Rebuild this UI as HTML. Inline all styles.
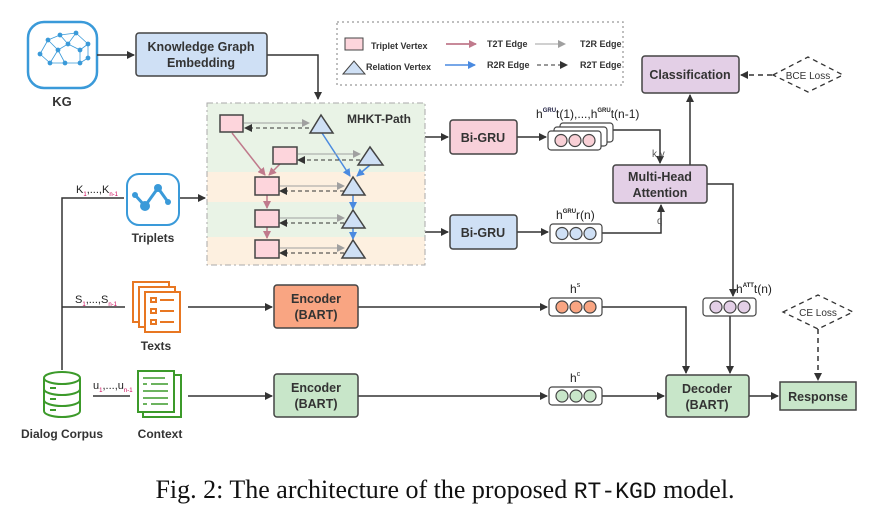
<!DOCTYPE html>
<html><head><meta charset="utf-8"><style>
body{margin:0;background:#fff;width:884px;height:510px;overflow:hidden}
svg text{font-family:"Liberation Sans",sans-serif}
</style></head><body>
<svg width="884" height="510" viewBox="0 0 884 510" xmlns="http://www.w3.org/2000/svg">
<defs>
<marker id="ak" markerWidth="8" markerHeight="8" refX="7" refY="4" orient="auto" markerUnits="userSpaceOnUse"><path d="M0,0L8,4L0,8z" fill="#333"/></marker>
<marker id="ap" markerWidth="8" markerHeight="8" refX="7" refY="4" orient="auto" markerUnits="userSpaceOnUse"><path d="M0,0L8,4L0,8z" fill="#c07a8c"/></marker>
<marker id="ab" markerWidth="8" markerHeight="8" refX="7" refY="4" orient="auto" markerUnits="userSpaceOnUse"><path d="M0,0L8,4L0,8z" fill="#4a8ae0"/></marker>
<marker id="ag" markerWidth="8" markerHeight="8" refX="7" refY="4" orient="auto" markerUnits="userSpaceOnUse"><path d="M0,0L8,4L0,8z" fill="#a0a0a0"/></marker>
</defs>
<g stroke="#333" stroke-width="1.5" fill="none">
<rect x="28" y="22" width="69" height="66" rx="16" stroke="#3a9ad9" stroke-width="2.5"/>
<line x1="97" y1="55" x2="134" y2="55" marker-end="url(#ak)"/>
<path d="M267 55H318V99" marker-end="url(#ak)"/>
<rect x="337" y="22" width="286" height="63" stroke="#aaa" stroke-dasharray="2,3"/>
<line x1="425" y1="137" x2="448" y2="137" marker-end="url(#ak)"/>
<line x1="425" y1="232" x2="448" y2="232" marker-end="url(#ak)"/>
<line x1="517" y1="137" x2="546" y2="137" marker-end="url(#ak)"/>
<line x1="517" y1="232" x2="548" y2="232" marker-end="url(#ak)"/>
<path d="M605 130H660V163" marker-end="url(#ak)"/>
<path d="M602 233H661V205" marker-end="url(#ak)"/>
<line x1="690" y1="165" x2="690" y2="95" marker-end="url(#ak)"/>
<line x1="772" y1="75" x2="741" y2="75" stroke-dasharray="5,4" marker-end="url(#ak)"/>
<path d="M707 184H733V296" marker-end="url(#ak)"/>
<line x1="730" y1="316" x2="730" y2="373" marker-end="url(#ak)"/>
<path d="M602 307H686V373" marker-end="url(#ak)"/>
<line x1="602" y1="396" x2="664" y2="396" marker-end="url(#ak)"/>
<line x1="749" y1="396" x2="778" y2="396" marker-end="url(#ak)"/>
<line x1="818" y1="329" x2="818" y2="380" stroke-dasharray="5,4" marker-end="url(#ak)"/>
<path d="M62 370V198H124"/>
<line x1="180" y1="198" x2="205" y2="198" marker-end="url(#ak)"/>
<line x1="62" y1="307" x2="125" y2="307"/>
<line x1="188" y1="307" x2="272" y2="307" marker-end="url(#ak)"/>
<line x1="93" y1="396" x2="130" y2="396"/>
<line x1="188" y1="396" x2="272" y2="396" marker-end="url(#ak)"/>
<line x1="358" y1="307" x2="547" y2="307" marker-end="url(#ak)"/>
<line x1="358" y1="396" x2="547" y2="396" marker-end="url(#ak)"/>
</g>
<g stroke="#3a9ad9" stroke-width="0.8" fill="#3a9ad9">
<path d="M40 54L48 40L60 35L76 33L88 44L88 58L80 63L65 63L50 63L40 54M48 40L58 50L68 44L76 33M58 50L50 63M58 50L65 63M68 44L80 50L88 44M80 50L80 63M68 44L60 35" fill="none"/>
<circle cx="40" cy="54" r="2"/><circle cx="48" cy="40" r="2"/><circle cx="60" cy="35" r="2"/><circle cx="76" cy="33" r="2"/><circle cx="88" cy="44" r="2"/><circle cx="88" cy="58" r="2"/><circle cx="80" cy="63" r="2"/><circle cx="65" cy="63" r="2"/><circle cx="50" cy="63" r="2"/><circle cx="58" cy="50" r="2"/><circle cx="68" cy="44" r="2"/><circle cx="80" cy="50" r="2"/>
</g>
<text x="62" y="106" font-size="13" font-weight="bold" fill="#333" text-anchor="middle">KG</text>
<rect x="136" y="33" width="131" height="43" rx="3" fill="#cfe0f5" stroke="#444" stroke-width="1.5"/>
<text x="201" y="51" font-size="12.5" font-weight="bold" fill="#333" text-anchor="middle">Knowledge Graph</text>
<text x="201" y="67" font-size="12.5" font-weight="bold" fill="#333" text-anchor="middle">Embedding</text>
<rect x="345" y="38" width="18" height="12" fill="#fdd5dc" stroke="#444"/>
<text x="371" y="49" font-size="9" font-weight="bold" fill="#333">Triplet Vertex</text>
<path d="M343 74L354 61L365 74z" fill="#cfe0f5" stroke="#444"/>
<text x="366" y="70" font-size="9" font-weight="bold" fill="#333">Relation Vertex</text>
<line x1="446" y1="44" x2="476" y2="44" stroke="#c07a8c" stroke-width="1.8" marker-end="url(#ap)"/>
<line x1="445" y1="65" x2="475" y2="65" stroke="#4a8ae0" stroke-width="1.5" marker-end="url(#ab)"/>
<text x="487" y="47" font-size="9" font-weight="bold" fill="#333">T2T Edge</text>
<text x="487" y="68" font-size="9" font-weight="bold" fill="#333">R2R Edge</text>
<line x1="535" y1="44" x2="565" y2="44" stroke="#a0a0a0" marker-end="url(#ag)"/>
<line x1="537" y1="65" x2="567" y2="65" stroke="#333" stroke-dasharray="4,3" marker-end="url(#ak)"/>
<text x="580" y="47" font-size="9" font-weight="bold" fill="#333">T2R Edge</text>
<text x="580" y="68" font-size="9" font-weight="bold" fill="#333">R2T Edge</text>
<rect x="207" y="103" width="218" height="69" fill="#e9f3e6"/>
<rect x="207" y="172" width="218" height="30" fill="#fdf0e0"/>
<rect x="207" y="202" width="218" height="35" fill="#e9f3e6"/>
<rect x="207" y="237" width="218" height="28" fill="#fdf0e0"/>
<rect x="207" y="103" width="218" height="162" fill="none" stroke="#aaa" stroke-dasharray="6,3,2,3"/>
<text x="347" y="123" font-size="12" font-weight="bold" fill="#333">MHKT-Path</text>
<g stroke-width="1.5">
<line x1="232" y1="133" x2="265" y2="175" stroke="#c07a8c" marker-end="url(#ap)"/>
<line x1="280" y1="164" x2="269" y2="175" stroke="#c07a8c" marker-end="url(#ap)"/>
<line x1="267" y1="195" x2="267" y2="208" stroke="#c07a8c" marker-end="url(#ap)"/>
<line x1="267" y1="227" x2="267" y2="238" stroke="#c07a8c" marker-end="url(#ap)"/>
<line x1="322" y1="133" x2="350" y2="176" stroke="#4a8ae0" marker-end="url(#ab)"/>
<line x1="370" y1="165" x2="357" y2="176" stroke="#4a8ae0" marker-end="url(#ab)"/>
<line x1="353" y1="195" x2="353" y2="209" stroke="#4a8ae0" marker-end="url(#ab)"/>
<line x1="353" y1="228" x2="353" y2="239" stroke="#4a8ae0" marker-end="url(#ab)"/>
</g>
<g stroke-width="1">
<line x1="244" y1="123" x2="309" y2="123" stroke="#a0a0a0" marker-end="url(#ag)"/>
<line x1="309" y1="128" x2="245" y2="128" stroke="#333" stroke-dasharray="4,3" marker-end="url(#ak)"/>
<line x1="298" y1="154" x2="360" y2="154" stroke="#a0a0a0" marker-end="url(#ag)"/>
<line x1="360" y1="160" x2="298" y2="160" stroke="#333" stroke-dasharray="4,3" marker-end="url(#ak)"/>
<line x1="280" y1="186" x2="344" y2="186" stroke="#a0a0a0" marker-end="url(#ag)"/>
<line x1="344" y1="191" x2="280" y2="191" stroke="#333" stroke-dasharray="4,3" marker-end="url(#ak)"/>
<line x1="280" y1="218" x2="344" y2="218" stroke="#a0a0a0" marker-end="url(#ag)"/>
<line x1="344" y1="223" x2="280" y2="223" stroke="#333" stroke-dasharray="4,3" marker-end="url(#ak)"/>
<line x1="280" y1="248" x2="344" y2="248" stroke="#a0a0a0" marker-end="url(#ag)"/>
<line x1="344" y1="253" x2="280" y2="253" stroke="#333" stroke-dasharray="4,3" marker-end="url(#ak)"/>
</g>
<g fill="#fdd5dc" stroke="#444" stroke-width="1.5">
<rect x="220" y="115" width="23" height="17"/><rect x="273" y="147" width="24" height="17"/>
<rect x="255" y="177" width="24" height="18"/><rect x="255" y="210" width="24" height="17"/><rect x="255" y="240" width="24" height="18"/>
</g>
<g fill="#cfe0f5" stroke="#444" stroke-width="1.5">
<path d="M310 133L321 115L333 133z"/><path d="M358 165L370 147L383 165z"/>
<path d="M342 195L353 177L365 195z"/><path d="M342 228L353 210L365 228z"/><path d="M342 258L353 240L365 258z"/>
</g>
<rect x="450" y="120" width="67" height="34" rx="3" fill="#f8d0da" stroke="#444" stroke-width="1.5"/>
<text x="483" y="142" font-size="12.5" font-weight="bold" fill="#333" text-anchor="middle">Bi-GRU</text>
<rect x="450" y="215" width="67" height="34" rx="3" fill="#cfe0f5" stroke="#444" stroke-width="1.5"/>
<text x="483" y="237" font-size="12.5" font-weight="bold" fill="#333" text-anchor="middle">Bi-GRU</text>
<g stroke="#444" stroke-width="1.2">
<rect x="560" y="123" width="53" height="19" rx="3" fill="#fff"/>
<rect x="554" y="127" width="53" height="19" rx="3" fill="#fff"/>
<rect x="548" y="131" width="53" height="19" rx="3" fill="#fff"/>
<circle cx="561" cy="140.5" r="6" fill="#f9d0d6"/><circle cx="575" cy="140.5" r="6" fill="#f9d0d6"/><circle cx="589" cy="140.5" r="6" fill="#f9d0d6"/>
<rect x="550" y="224" width="52" height="19" rx="3" fill="#fff"/>
<circle cx="562" cy="233.5" r="6" fill="#cfe0f5"/><circle cx="576" cy="233.5" r="6" fill="#cfe0f5"/><circle cx="590" cy="233.5" r="6" fill="#cfe0f5"/>
<rect x="549" y="298" width="53" height="18" rx="3" fill="#fff"/>
<circle cx="562" cy="307" r="6" fill="#f9a582"/><circle cx="576" cy="307" r="6" fill="#f9a582"/><circle cx="590" cy="307" r="6" fill="#f9a582"/>
<rect x="549" y="387" width="53" height="18" rx="3" fill="#fff"/>
<circle cx="562" cy="396" r="6" fill="#c8e6c9"/><circle cx="576" cy="396" r="6" fill="#c8e6c9"/><circle cx="590" cy="396" r="6" fill="#c8e6c9"/>
<rect x="703" y="298" width="53" height="18" rx="3" fill="#fff"/>
<circle cx="716" cy="307" r="6" fill="#e3cfe6"/><circle cx="730" cy="307" r="6" fill="#e3cfe6"/><circle cx="744" cy="307" r="6" fill="#e3cfe6"/>
</g>
<g fill="#222" font-size="12">
<text x="536" y="118">h<tspan font-size="6" dy="-6" fill="#224" font-weight="bold">GRU</tspan><tspan dy="6">t(1),...,h</tspan><tspan font-size="6" dy="-6" font-weight="bold">GRU</tspan><tspan dy="6">t(n-1)</tspan></text>
<text x="556" y="219">h<tspan font-size="6" dy="-6" font-weight="bold">GRU</tspan><tspan dy="6">r(n)</tspan></text>
<text x="570" y="293">h<tspan font-size="7" dy="-6">s</tspan></text>
<text x="570" y="382">h<tspan font-size="7" dy="-6">c</tspan></text>
<text x="736" y="293">h<tspan font-size="6" dy="-6" font-weight="bold">ATT</tspan><tspan dy="6">t(n)</tspan></text>
<text x="652" y="157" font-size="10" fill="#555">k,v</text>
<text x="657" y="224" font-size="10" fill="#555">q</text>
</g>
<rect x="613" y="165" width="94" height="38" rx="3" fill="#e3cfe6" stroke="#444" stroke-width="1.5"/>
<text x="660" y="181" font-size="12.5" font-weight="bold" fill="#333" text-anchor="middle">Multi-Head</text>
<text x="660" y="197" font-size="12.5" font-weight="bold" fill="#333" text-anchor="middle">Attention</text>
<rect x="642" y="56" width="97" height="37" rx="3" fill="#e3cfe6" stroke="#444" stroke-width="1.5"/>
<text x="690" y="79" font-size="12.5" font-weight="bold" fill="#333" text-anchor="middle">Classification</text>
<path d="M773 75L808 57L843 75L808 92z" fill="#fff" stroke="#333" stroke-width="1.3" stroke-dasharray="5,4"/>
<text x="808" y="79" font-size="10" fill="#333" text-anchor="middle">BCE Loss</text>
<path d="M783 312L818 295L853 312L818 329z" fill="#fff" stroke="#333" stroke-width="1.3" stroke-dasharray="5,4"/>
<text x="818" y="316" font-size="10" fill="#333" text-anchor="middle">CE Loss</text>
<rect x="274" y="285" width="84" height="43" rx="3" fill="#f9a582" stroke="#444" stroke-width="1.5"/>
<text x="316" y="303" font-size="12.5" font-weight="bold" fill="#333" text-anchor="middle">Encoder</text>
<text x="316" y="319" font-size="12.5" font-weight="bold" fill="#333" text-anchor="middle">(BART)</text>
<rect x="274" y="374" width="84" height="43" rx="3" fill="#c8e6c9" stroke="#444" stroke-width="1.5"/>
<text x="316" y="392" font-size="12.5" font-weight="bold" fill="#333" text-anchor="middle">Encoder</text>
<text x="316" y="408" font-size="12.5" font-weight="bold" fill="#333" text-anchor="middle">(BART)</text>
<rect x="666" y="375" width="83" height="42" rx="3" fill="#c8e6c9" stroke="#444" stroke-width="1.5"/>
<text x="707" y="393" font-size="12.5" font-weight="bold" fill="#333" text-anchor="middle">Decoder</text>
<text x="707" y="409" font-size="12.5" font-weight="bold" fill="#333" text-anchor="middle">(BART)</text>
<rect x="780" y="382" width="76" height="28" fill="#c8e6c9" stroke="#444" stroke-width="1.5"/>
<text x="818" y="401" font-size="12.5" font-weight="bold" fill="#333" text-anchor="middle">Response</text>
<rect x="127" y="174" width="52" height="51" rx="12" fill="#fff" stroke="#3a9ad9" stroke-width="2"/>
<path d="M145 206L158 188L168 202" stroke="#3a9ad9" stroke-width="3" fill="none"/>
<path d="M135 195L145 206" stroke="#3a9ad9" stroke-width="3"/>
<circle cx="135" cy="195" r="3" fill="#3a9ad9"/><circle cx="145" cy="206" r="5" fill="#3a9ad9"/><circle cx="158" cy="188" r="4" fill="#3a9ad9"/><circle cx="168" cy="202" r="3" fill="#3a9ad9"/>
<text x="153" y="242" font-size="12" font-weight="bold" fill="#333" text-anchor="middle">Triplets</text>
<text x="76" y="193" font-size="11" fill="#222">K<tspan font-size="6" dy="3" fill="#c05">1</tspan><tspan dy="-3">,...,K</tspan><tspan font-size="6" dy="3" fill="#c05">n-1</tspan></text>
<g stroke="#e87722" stroke-width="2" fill="#fff">
<rect x="133" y="282" width="36" height="40"/><rect x="139" y="287" width="36" height="40"/><rect x="145" y="292" width="35" height="40"/>
<rect x="151" y="298" width="5" height="4"/><rect x="151" y="309" width="5" height="4"/><rect x="151" y="320" width="5" height="4"/>
<path d="M160 300H174M160 311H174M160 322H174" fill="none"/>
</g>
<text x="156" y="350" font-size="12" font-weight="bold" fill="#333" text-anchor="middle">Texts</text>
<text x="75" y="303" font-size="11" fill="#222">S<tspan font-size="6" dy="3" fill="#c05">1</tspan><tspan dy="-3">,...,S</tspan><tspan font-size="6" dy="3" fill="#c05">n-1</tspan></text>
<g stroke="#3c9a2a" stroke-width="2" fill="#fff">
<path d="M44 378V411A18 6 0 0 0 80 411V378"/>
<ellipse cx="62" cy="378" rx="18" ry="6"/>
<path d="M44 389A18 6 0 0 0 80 389M44 400A18 6 0 0 0 80 400" fill="none"/>
<path d="M50 388H56M50 399H56M50 410H56" fill="none"/>
</g>
<text x="62" y="438" font-size="12" font-weight="bold" fill="#333" text-anchor="middle">Dialog Corpus</text>
<text x="93" y="389" font-size="11" fill="#222">u<tspan font-size="6" dy="3" fill="#c05">1</tspan><tspan dy="-3">,...,u</tspan><tspan font-size="6" dy="3" fill="#c05">n-1</tspan></text>
<g stroke="#3c9a2a" stroke-width="2" fill="#fff">
<path d="M175 375H181V417H143V412"/>
<rect x="138" y="371" width="36" height="41"/>
<path d="M143 378H165M143 384H147M151 384H168M143 391H168M143 398H168M143 404H147M151 404H168" fill="none" stroke-width="1.6"/>
</g>
<text x="160" y="438" font-size="12" font-weight="bold" fill="#333" text-anchor="middle">Context</text>
<text x="445" y="498" font-size="26" fill="#111" text-anchor="middle" style="font-family:'Liberation Serif',serif">Fig. 2: The architecture of the proposed <tspan style="font-family:'Liberation Mono',monospace" font-size="23">RT-KGD</tspan> model.</text>
</svg>
</body></html>
